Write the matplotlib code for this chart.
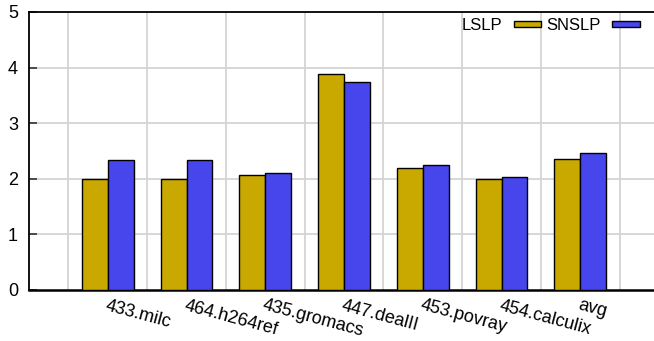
import matplotlib
matplotlib.use('Agg')
import matplotlib.pyplot as plt
import numpy as np

benchmarks = ["433.milc", "464.h264ref", "435.gromacs", "447.dealII",
              "453.povray", "454.calculix", "avg"]
lslp = [2.00, 2.00, 2.06, 3.89, 2.20, 2.00, 2.36]
snslp = [2.33, 2.33, 2.10, 3.75, 2.25, 2.03, 2.46]

plt.rcParams['font.family'] = ['Liberation Sans', 'DejaVu Sans']

fig = plt.figure(figsize=(6.54, 3.41), dpi=100)
# axes run slightly past the right edge of the canvas
ax = fig.add_axes([29 / 654, 51 / 341, 630 / 654, 278 / 341])

x = np.arange(len(benchmarks))
w = 0.33
ax.bar(x - w / 2, lslp, w, color='#c9a800', edgecolor='black', linewidth=1.0,
       label='LSLP', zorder=3)
ax.bar(x + w / 2, snslp, w, color='#4646ec', edgecolor='black', linewidth=1.0,
       label='SNSLP', zorder=3)

ax.set_xlim(-1, len(benchmarks))
ax.set_ylim(0, 5)
ax.set_yticks(range(6))
ax.set_xticks(x)
ax.set_xticklabels(benchmarks, rotation=-15, ha='left', va='top',
                   rotation_mode='anchor', fontsize=13)
ax.tick_params(axis='x', length=0, pad=5)
ax.tick_params(axis='y', direction='in', length=6, width=1.2, labelsize=13,
               pad=8, color='#333333')

# grid: horizontal at each integer, vertical between the groups
for yv in range(1, 5):
    ax.axhline(yv, color='#d4d4d4', linewidth=1.3, zorder=1)
for xv in np.arange(-0.5, len(benchmarks) + 0.5):
    ax.axvline(xv, color='#d4d4d4', linewidth=1.3, zorder=1)

for side in ['top', 'left', 'bottom']:
    ax.spines[side].set_linewidth(1.3)
ax.spines['bottom'].set_linewidth(1.8)
ax.spines['right'].set_visible(False)

ax.legend(loc='upper right', bbox_to_anchor=(0.975, 0.99), ncol=2,
          frameon=False, markerfirst=False, fontsize=12, handlelength=1.65,
          handleheight=0.25, handletextpad=0.7, columnspacing=0.3,
          borderaxespad=0, borderpad=0.2)

fig.savefig('out.png', dpi=100)
